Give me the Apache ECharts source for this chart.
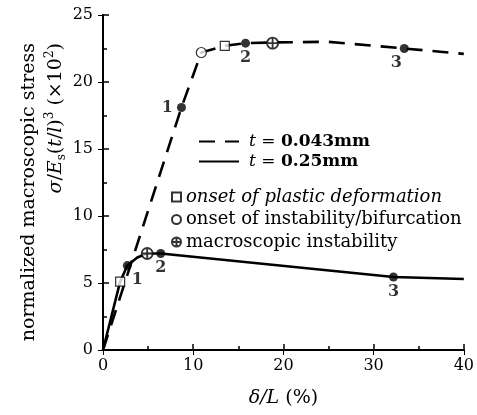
<!DOCTYPE html>
<html>
<head>
<meta charset="utf-8">
<script src="https://cdn.jsdelivr.net/npm/echarts@6/dist/echarts.min.js"></script>
<style>
html,body{margin:0;padding:0;background:#fff;}
#main{width:477px;height:415px;}
</style>
</head>
<body>
<div id="main"></div>
<script>
// curve t = 0.043mm (dashed)
var thinX = [0, 8.7, 10.9, 13.5, 15.8, 18.8, 25, 33.4, 40];
var thinY = [0, 18.1, 22.2, 22.7, 22.9, 22.95, 23.0, 22.5, 22.1];
// curve t = 0.25mm (solid)
var thickX = [0, 1.9, 2.7, 3.8, 4.9, 6.4, 32.2, 40];
var thickY = [0, 5.1, 6.3, 6.9, 7.2, 7.2, 5.45, 5.3];

// special points [x, y]
var plasticPts = [[13.5, 22.7], [1.9, 5.1]];
var bifurcPts = [[10.9, 22.2]];
var macroPts = [[18.8, 22.9], [4.9, 7.2]];
var numberedPts = [[8.7, 18.1], [15.8, 22.9], [33.4, 22.5], [2.7, 6.3], [6.4, 7.2], [32.2, 5.45]];
var numberedLabels = ['1', '2', '3', '1', '2', '3'];

var seriesNames = ['t = 0.043mm', 't = 0.25mm'];
var markerNames = ['onset of plastic deformation', 'onset of instability/bifurcation', 'macroscopic instability'];
var yTitle1 = 'normalized macroscopic stress';

// label placement (style only)
var labelPos = ['left', 'bottom', 'bottom', 'right', 'bottom', 'bottom'];
var labelOff = [[0, 0], [0, -2], [-8, -2], [-4, 14], [0, -2], [0, -2]];

var font = 'DejaVu Serif';
var crossPath = 'path://M10,0A10,10 0 1,1 -10,0A10,10 0 1,1 10,0Z M-10,0L10,0 M0,-10L0,10';

function zip(xs, ys) {
    return xs.map(function (x, i) { return [x, ys[i]]; });
}

var Myecharts = echarts.init(document.getElementById('main'));
var option = {
    animation: false,
    textStyle: {fontFamily: font, color: '#000'},
    grid: {left: 103, right: 10, top: 15, bottom: 65},
    graphic: [{
        type: 'text',
        x: 29, y: 43, rotation: Math.PI / 2,
        style: {text: yTitle1, fontFamily: font, fontSize: 19, fill: '#000', align: 'right', verticalAlign: 'middle'}
    }, {
        type: 'text',
        x: 56, y: 43, rotation: Math.PI / 2,
        style: {
            text: '{i|σ}/{i|E}{sub|s}({i|t}/{i|l}){sup|3} (×10{sup|2})',
            fontFamily: font, fontSize: 19, fill: '#000', align: 'right', verticalAlign: 'middle',
            rich: {
                i: {fontFamily: font, fontSize: 19, fontStyle: 'italic', lineHeight: 24},
                sub: {fontFamily: font, fontSize: 12, verticalAlign: 'bottom', lineHeight: 20},
                sup: {fontFamily: font, fontSize: 12, verticalAlign: 'top', lineHeight: 16}
            }
        }
    }],
    legend: [{
        data: seriesNames,
        orient: 'vertical',
        left: 193,
        top: 127,
        itemWidth: 40,
        itemHeight: 12,
        itemGap: 1,
        itemStyle: {opacity: 0},
        textStyle: {fontFamily: font, fontSize: 17, color: '#000', lineHeight: 19, padding: [0, 0, 0, 5],
            rich: {i: {fontStyle: 'italic', fontFamily: font, fontSize: 17}, b: {fontFamily: font, fontSize: 17, fontWeight: 'bold'}}},
        formatter: function (n) {
            var v = n.split('= ')[1];
            return '{i|t} = {b|' + v + '}';
        }
    }, {
        data: [
            {name: markerNames[0], icon: 'rect'},
            {name: markerNames[1], icon: 'circle'},
            {name: markerNames[2], icon: crossPath}
        ],
        orient: 'vertical',
        left: 166,
        top: 181,
        itemWidth: 9,
        itemHeight: 9,
        itemGap: 0.5,
        textStyle: {fontFamily: font, fontSize: 18, color: '#000', lineHeight: 22,
            rich: {i: {fontStyle: 'italic', fontFamily: font, fontSize: 18, lineHeight: 22}}},
        formatter: function (n) {
            return n === markerNames[0] ? '{i|' + n + '}' : n;
        }
    }],
    xAxis: [{
        type: 'value', min: 0, max: 40, interval: 10,
        name: '{i|δ/L} (%)',
        nameLocation: 'middle', nameGap: 39,
        nameTextStyle: {fontFamily: font, fontSize: 19, color: '#000', rich: {i: {fontStyle: 'italic', fontFamily: font, fontSize: 19}}},
        axisLine: {lineStyle: {color: '#000', width: 2}},
        axisTick: {inside: true, length: 6, lineStyle: {color: '#000', width: 1.5}},
        minorTick: {show: true, splitNumber: 2, length: 4, lineStyle: {color: '#000', width: 1.5}},
        axisLabel: {fontFamily: font, fontSize: 16, color: '#000', margin: 8},
        splitLine: {show: false}
    }, {
        type: 'value', min: 0, max: 40, interval: 10, position: 'top',
        axisLine: {lineStyle: {color: '#000', width: 1.5}},
        axisTick: {inside: true, length: 5, lineStyle: {color: '#000'}},
        axisLabel: {show: false},
        splitLine: {show: false}
    }],
    yAxis: [{
        type: 'value', min: 0, max: 25, interval: 5,
        axisLine: {lineStyle: {color: '#000', width: 2}},
        axisTick: {inside: true, length: 6, lineStyle: {color: '#000', width: 1.5}},
        minorTick: {show: true, splitNumber: 2, length: 4, lineStyle: {color: '#000', width: 1.5}},
        axisLabel: {fontFamily: font, fontSize: 16, color: '#000', margin: 10},
        splitLine: {show: false}
    }, {
        type: 'value', min: 0, max: 25, interval: 5, position: 'right',
        axisLine: {show: true, lineStyle: {color: '#000', width: 1.5}},
        axisTick: {show: true, inside: true, length: 5, lineStyle: {color: '#000'}},
        axisLabel: {show: false},
        splitLine: {show: false}
    }],
    series: [{
        name: seriesNames[0],
        type: 'line',
        data: zip(thinX, thinY),
        symbol: 'none',
        lineStyle: {color: '#000', width: 2.6, type: [16, 10]},
        itemStyle: {color: '#000'},
        z: 2
    }, {
        name: seriesNames[1],
        type: 'line',
        data: zip(thickX, thickY),
        symbol: 'none',
        lineStyle: {color: '#000', width: 2.6, type: 'solid'},
        itemStyle: {color: '#000'},
        z: 2
    }, {
        name: markerNames[0],
        type: 'scatter',
        data: plasticPts,
        symbol: 'rect',
        symbolSize: 9,
        itemStyle: {color: '#fff', borderColor: '#000', borderWidth: 1.2},
        z: 5
    }, {
        name: markerNames[1],
        type: 'scatter',
        data: bifurcPts,
        symbol: 'circle',
        symbolSize: 10,
        itemStyle: {color: '#fff', borderColor: '#000', borderWidth: 1.2},
        z: 5
    }, {
        name: markerNames[2],
        type: 'scatter',
        data: macroPts,
        symbol: crossPath,
        symbolSize: 11,
        itemStyle: {color: '#fff', borderColor: '#000', borderWidth: 1.8},
        z: 5
    }, {
        name: 'numbered',
        type: 'scatter',
        data: numberedPts.map(function (p, i) {
            return {
                value: p,
                label: {show: true, formatter: numberedLabels[i], position: labelPos[i], offset: labelOff[i], distance: 4}
            };
        }),
        symbol: 'circle',
        symbolSize: 9,
        itemStyle: {color: '#000'},
        label: {fontFamily: font, fontSize: 16, color: '#000', fontWeight: 'bold'},
        z: 6
    }]
};
Myecharts.setOption(option);
</script>
</body>
</html>
